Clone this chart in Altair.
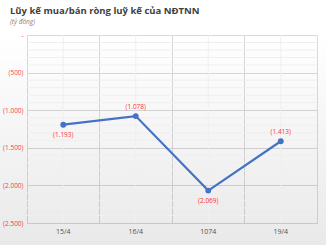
import altair as alt
import pandas as pd

dates = ["15/4", "16/4", "1074", "19/4"]
values = [-1193, -1078, -2069, -1413]
major_ticks = list(range(-2500, 1, 500))
minor_ticks = [v for v in range(-2500, 1, 100) if v % 500 != 0]

# label above the point when the line rises into it, otherwise below
above = [False] + [values[i] > values[i - 1] for i in range(1, len(values))]
df = pd.DataFrame({"date": dates, "value": values, "above": above})
minor_df = pd.DataFrame({"v": minor_ticks})

W, H = 290, 188
FONT = "Open Sans"

xscale = alt.Scale(domain=dates, paddingInner=0, paddingOuter=0)
yscale = alt.Scale(domain=[-2500, 0], nice=False)

x_axis = alt.Axis(grid=True, gridColor="#d9d9d9", gridWidth=1, bandPosition=0,
                  ticks=False, domain=False, title=None, labelAngle=0,
                  labelFont=FONT, labelFontSize=7, labelColor="#595959",
                  labelPadding=4)
y_axis = alt.Axis(grid=True, gridColor="#d9d9d9", gridWidth=1,
                  ticks=False, domain=False, title=None,
                  values=major_ticks, labelOverlap=False, labelFlush=False,
                  labelExpr="datum.value == 0 ? '-\u00a0\u00a0\u00a0\u00a0\u00a0' : '(' + replace(format(abs(datum.value), ',.0f'), ',', '.') + ')'",
                  labelFont=FONT, labelFontSize=6.5, labelColor="#ff4747",
                  labelPadding=4)

bg = alt.Chart(df).mark_rect(
    clip=False,
    color=alt.Gradient(
        gradient="linear", x1=0, y1=0, x2=0, y2=1,
        stops=[alt.GradientStop(color="rgba(0,0,0,0)", offset=0),
               alt.GradientStop(color="rgba(0,0,0,0.085)", offset=1)],
    ),
).encode(
    x=alt.value(-27), x2=alt.value(W + 9), y=alt.value(0), y2=alt.value(H + 22)
).transform_filter(alt.datum.date == dates[0])

minor_h = alt.Chart(minor_df).mark_rule(color="#efefef", strokeWidth=1).encode(
    y=alt.Y("v:Q", scale=yscale, axis=y_axis)
)
minor_v = alt.Chart(df).mark_rule(color="#efefef", strokeWidth=1).encode(
    x=alt.X("date:N", scale=xscale, sort=dates, axis=x_axis)
)

base = alt.Chart(df).encode(
    x=alt.X("date:N", scale=xscale, sort=dates, axis=x_axis),
    y=alt.Y("value:Q", scale=yscale, axis=y_axis),
)

line = base.mark_line(color="#4472c4", strokeWidth=2.2)
pts = base.mark_circle(color="#4472c4", size=34, opacity=1)

lab_fmt = "'(' + replace(format(abs(datum.value), ',.0f'), ',', '.') + ')'"
labels_above = base.transform_filter(alt.datum.above).transform_calculate(
    lab=lab_fmt).mark_text(dy=-9, fontSize=6.5, font=FONT, color="#ff3333").encode(text="lab:N")
labels_below = base.transform_filter(~alt.datum.above).transform_calculate(
    lab=lab_fmt).mark_text(dy=10, fontSize=6.5, font=FONT, color="#ff3333").encode(text="lab:N")

chart = alt.layer(base.mark_point(opacity=0), bg, minor_h, minor_v, line, pts,
                  labels_above, labels_below).properties(
    width=W, height=H,
    title=alt.TitleParams(
        "Lũy kế mua/bán ròng luỹ kế của NĐTNN",
        subtitle="(tỷ đồng)",
        anchor="start", frame="group", dx=-17, offset=7,
        font=FONT, fontSize=9.5, fontWeight="bold", color="#404040",
        subtitleFont=FONT, subtitleFontSize=6.5, subtitleFontStyle="italic",
        subtitleColor="#7f7f7f", subtitlePadding=3,
    ),
    autosize=alt.AutoSizeParams(type="none"),
    padding={"left": 27, "top": 35, "right": 9, "bottom": 22},
).configure_view(stroke="#d9d9d9", strokeWidth=1).configure(background="white")

chart.save("out.html", embed_options={"renderer": "svg", "actions": False})
